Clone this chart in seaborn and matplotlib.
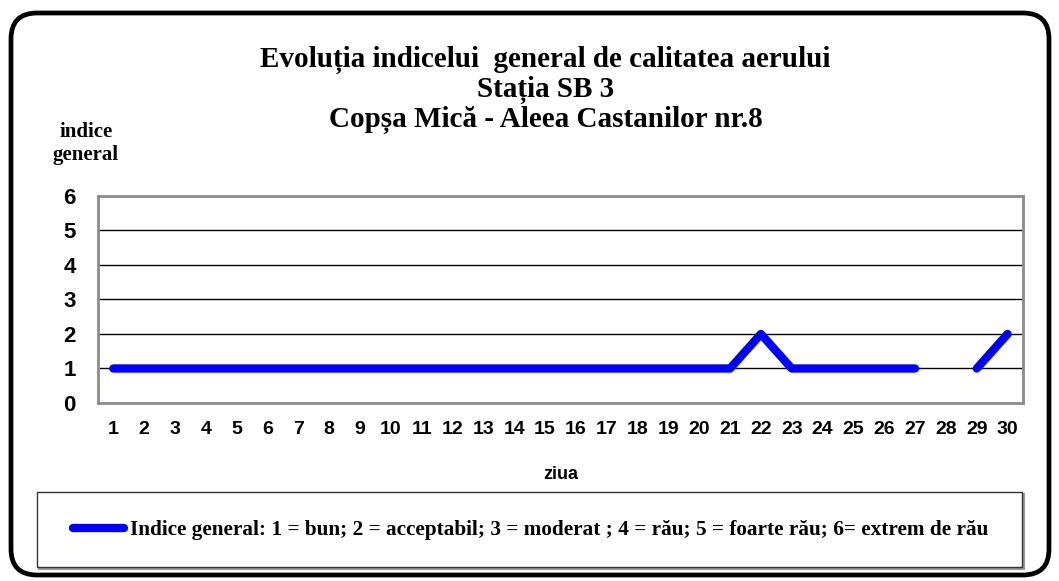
import numpy as np
import pandas as pd
import matplotlib
matplotlib.use('Agg')
import matplotlib.pyplot as plt
import seaborn as sns
from matplotlib.patches import FancyBboxPatch, Rectangle
from matplotlib.lines import Line2D

# daily general index, Copsa Mica SB 3 (day 28 missing)
days = list(range(1, 31))
index_values = [1, 1, 1, 1, 1, 1, 1, 1, 1, 1,
                1, 1, 1, 1, 1, 1, 1, 1, 1, 1,
                1, 2, 1, 1, 1, 1, 1, np.nan, 1, 2]
y_ticks = [0, 1, 2, 3, 4, 5, 6]

title_lines = ["Evoluția indicelui  general de calitatea aerului",
               "Stația SB 3",
               "Copșa Mică - Aleea Castanilor nr.8"]
y_label_lines = ["indice", "general"]
x_label = "ziua"
legend_label = ("Indice general: 1 = bun; 2 = acceptabil; 3 = moderat ; "
                "4 = rău; 5 = foarte rău; 6= extrem de rău")

SERIF = ['Liberation Serif', 'DejaVu Serif']
SANS = ['Liberation Sans', 'DejaVu Sans']
LINE_COLOR = '#0000FF'

df = pd.DataFrame({'day': days, 'value': index_values})
# split at the gap so the line is not joined across the missing day
df['segment'] = df['value'].isna().cumsum()
df = df.dropna()

sns.set_style('white')
plt.rcParams['font.family'] = SANS
plt.rcParams['text.color'] = 'black'
plt.rcParams['xtick.color'] = 'black'
plt.rcParams['ytick.color'] = 'black'
plt.rcParams['axes.labelcolor'] = 'black'

W, H = 1059, 581
fig = plt.figure(figsize=(W / 100, H / 100), dpi=100)
ax = fig.add_axes([0.0925, 0.3064, 0.8735, 0.3563])

sns.lineplot(data=df, x='day', y='value', units='segment', estimator=None,
             color=LINE_COLOR, linewidth=6, solid_capstyle='round',
             solid_joinstyle='round', ax=ax, legend=False)

ax.set_xlim(0.5, 30.5)
ax.set_ylim(0, 6)
ax.set_xticks(days)
ax.set_xticklabels([str(d) for d in days])
ax.set_yticks(y_ticks)
for y in y_ticks[1:-1]:
    ax.axhline(y, color='black', linewidth=1, zorder=0)
for s in ax.spines.values():
    s.set_color('#8c8c8c')
    s.set_linewidth(2)
ax.tick_params(axis='x', length=0, pad=13, labelsize=14)
ax.tick_params(axis='y', length=0, pad=16, labelsize=16)
for lab in ax.get_xticklabels() + ax.get_yticklabels():
    lab.set_fontweight('bold')
ax.set_xlabel(x_label, fontsize=13, fontweight='bold', labelpad=20)
ax.set_ylabel('')

# title, one text per line (baselines)
for line, base in zip(title_lines, [67, 97, 127]):
    fig.text(0.515, 1 - base / H, line, ha='center', va='baseline',
             fontsize=21, fontweight='bold', family=SERIF)
for line, base in zip(y_label_lines, [137, 160]):
    fig.text(86 / W, 1 - base / H, line, ha='center', va='baseline',
             fontsize=15, fontweight='bold', family=SERIF)

# outer rounded frame
frame = FancyBboxPatch((0.11, 0.06), 10.38, 5.62,
                       boxstyle='round,pad=0,rounding_size=0.26',
                       transform=fig.dpi_scale_trans, fill=False,
                       edgecolor='black', linewidth=3.4)
fig.patches.append(frame)

# legend box with a light shadow on the right/bottom edges
shadow = Rectangle((0.385, 0.125), 9.85, 0.75, transform=fig.dpi_scale_trans,
                   fill=False, edgecolor='#9a9a9a', linewidth=1.5)
fig.patches.append(shadow)
box = Rectangle((0.37, 0.14), 9.85, 0.75, transform=fig.dpi_scale_trans,
                facecolor='white', edgecolor='#333333', linewidth=1)
fig.patches.append(box)
handle = Line2D([], [], color=LINE_COLOR, linewidth=6, solid_capstyle='round')
fig.legend([handle], [legend_label], loc='center left',
           bbox_to_anchor=(73 / W, 1 - 530 / H), frameon=False,
           borderpad=0, borderaxespad=0,
           handlelength=2.4, handletextpad=0.3,
           prop={'family': SERIF, 'weight': 'bold', 'size': 15.3})

fig.savefig('out.png', dpi=100)
